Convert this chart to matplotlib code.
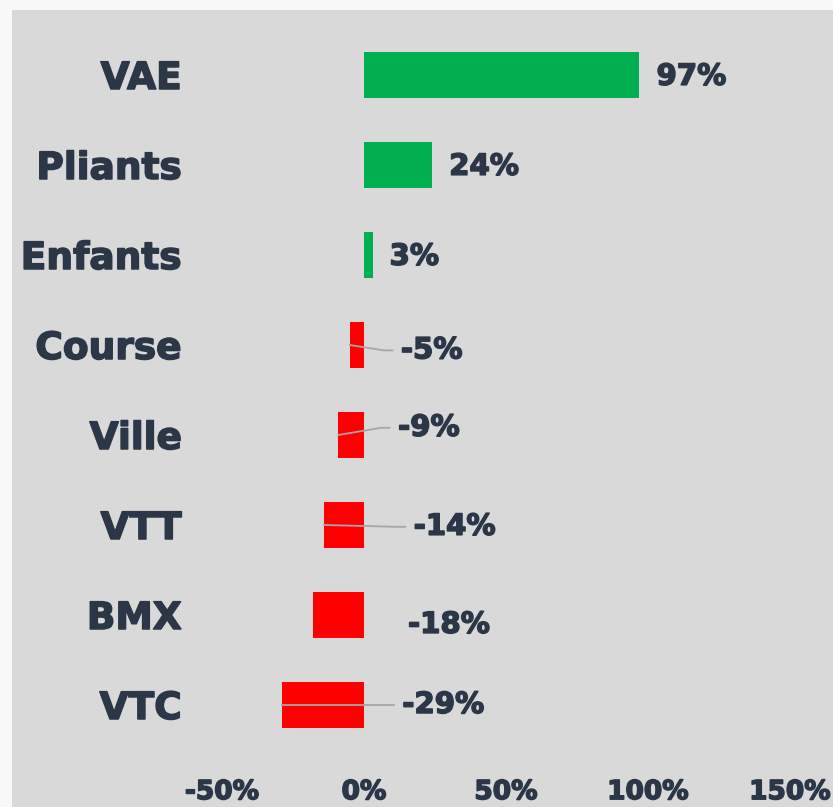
import matplotlib
matplotlib.use("Agg")
import matplotlib.pyplot as plt
import matplotlib.patheffects as pe
from matplotlib.patches import Rectangle

categories = ["VAE", "Pliants", "Enfants", "Course", "Ville", "VTT", "BMX", "VTC"]
values = [97, 24, 3, -5, -9, -14, -18, -29]
ticks = [-50, 0, 50, 100, 150]

# label placement for the negative bars (x in %, y offset in category units)
neg_label_x = {"Course": 13, "Ville": 12, "VTT": 17.5, "BMX": 15.5, "VTC": 13.5}
neg_label_dy = {"Course": 0.06, "Ville": -0.08, "VTT": 0.02, "BMX": 0.11, "VTC": 0.0}
leader = {"Course", "Ville", "VTT", "VTC"}

TXT = "#2b3747"
plt.rcParams["font.family"] = ["DejaVu Sans"]
thick = [pe.withStroke(linewidth=1.1, foreground=TXT)]

fig = plt.figure(figsize=(8.33, 8.07), dpi=100)
fig.patch.set_facecolor("#f8f8f8")
fig.patches.append(Rectangle((12 / 833, 0), 1, 1 - 10 / 807, transform=fig.transFigure,
                             facecolor="#d9d9d9", edgecolor="none", zorder=-10))

ax = fig.add_axes([222 / 833, 1 - 750 / 807, 568 / 833, 720 / 807])
ax.set_facecolor("none")

ypos = list(range(len(categories)))
colors = ["#00b050" if v > 0 else "#ff0000" for v in values]
ax.barh(ypos, values, height=0.52, color=colors, zorder=2)

for y, (cat, v) in enumerate(zip(categories, values)):
    lab = f"{v}%"
    if v > 0:
        lx, ly = v + 6, y + 0.02
    else:
        lx, ly = neg_label_x[cat], y + neg_label_dy[cat]
        if cat in leader:
            ax.plot([v, lx - 6, lx - 3], [y, ly, ly], color="#a6a6a6", lw=1.3, zorder=3)
    ax.text(lx, ly, lab, ha="left", va="center", fontsize=21,
            fontweight="bold", color=TXT, path_effects=thick)

ax.set_xlim(-50, 150)
ax.set_ylim(len(categories) - 0.5, -0.5)
ax.set_xticks(ticks)
ax.set_xticklabels([f"{t}%" for t in ticks])
ax.set_yticks(ypos)
ax.set_yticklabels(categories)
ax.tick_params(axis="x", length=0, pad=21, labelsize=19, labelcolor=TXT)
ax.tick_params(axis="y", length=0, pad=29, labelsize=27, labelcolor=TXT)
for t in ax.get_xticklabels() + ax.get_yticklabels():
    t.set_fontweight("bold")
    t.set_path_effects(thick)
for s in ax.spines.values():
    s.set_visible(False)

fig.savefig("out.png", dpi=100, facecolor=fig.get_facecolor())
